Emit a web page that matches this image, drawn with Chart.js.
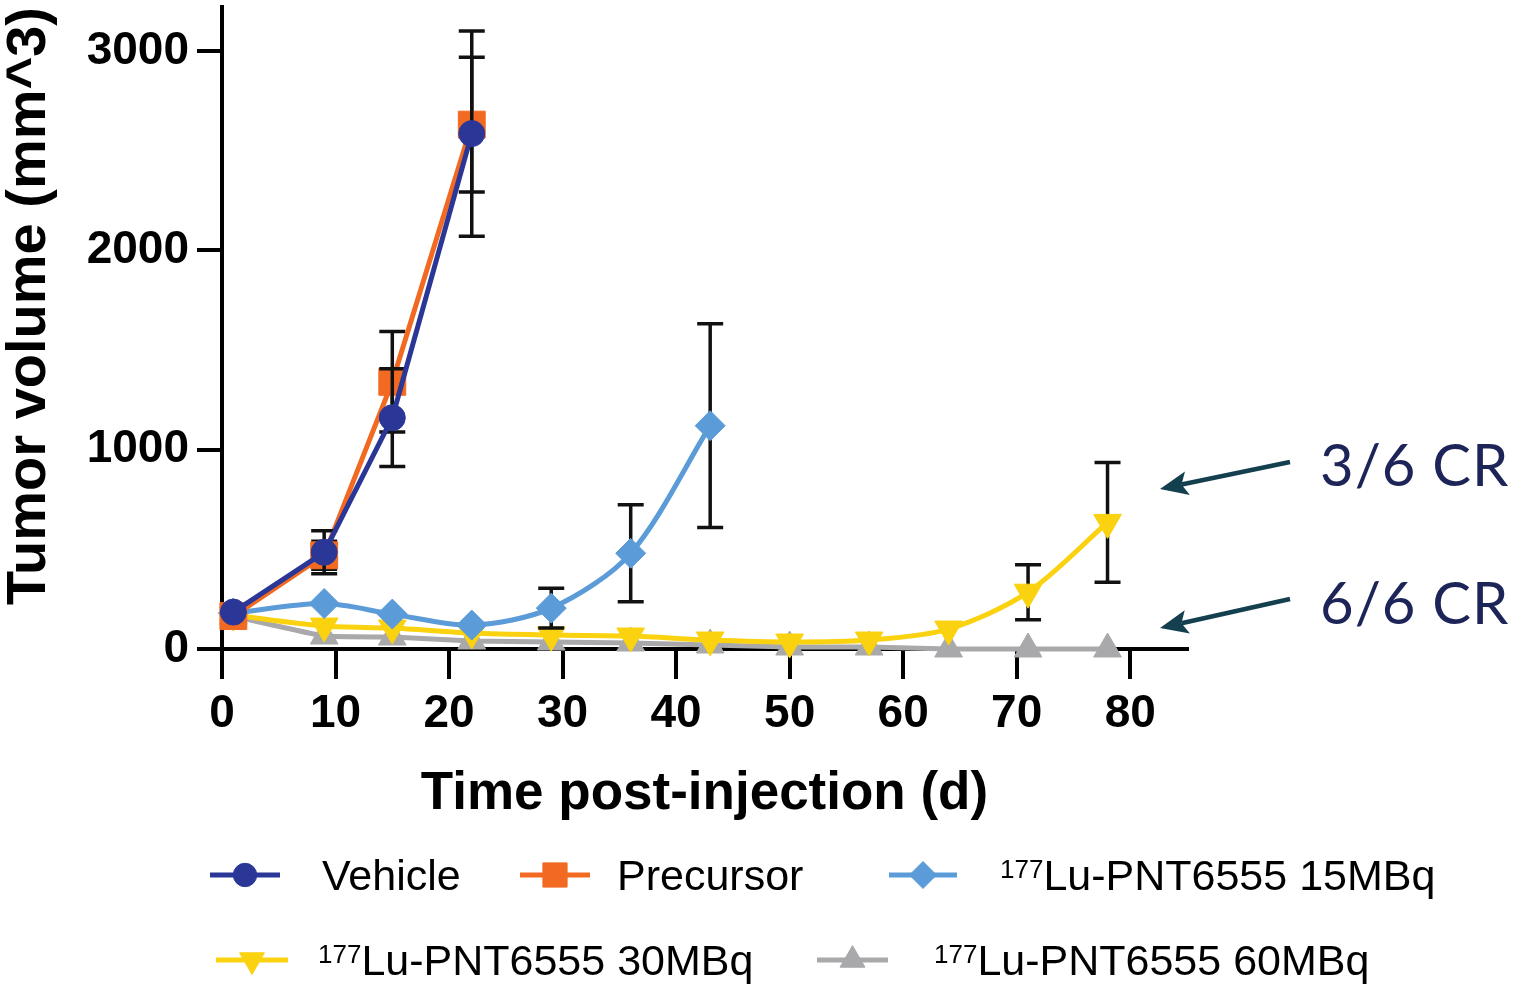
<!DOCTYPE html>
<html><head><meta charset="utf-8">
<script src="https://cdn.jsdelivr.net/npm/chart.js@4.4.1/dist/chart.umd.min.js"></script>
<style>html,body{margin:0;padding:0;background:#fff;}#wrap{width:1516px;height:992px;position:relative;}</style>
</head><body><div id="wrap"><canvas id="c" width="1516" height="992"></canvas></div>
<script>
// ---- data ----
const days = [1, 9, 15, 22, 29, 36, 43, 50, 57, 64, 71, 78];
const vehicle = [185, 485, 1160, 2585];
const vehicleErr = [0, 108, 245, 515];
const precursor = [165, 470, 1340, 2630];
const precursorErr = [0, 70, 252, 338];
const lu15 = [180, 228, 175, 120, 205, 480, 1120];
const lu15Err = [0, 0, 0, 0, 100, 243, 511];
const lu30 = [170, 115, 105, 80, 70, 65, 45, 35, 45, 100, 285, 635];
const lu30Err = [0, 0, 0, 0, 0, 0, 0, 0, 0, 0, 138, 300];
const lu60 = [165, 65, 60, 40, 35, 30, 20, 10, 10, 0, 0, 0];
const xTicks = [0, 10, 20, 30, 40, 50, 60, 70, 80];
const yTicks = [0, 1000, 2000, 3000];
const labelSup = ['', '', '177', '177', '177'];
const labelMain = ['Vehicle', 'Precursor', 'Lu-PNT6555 15MBq', 'Lu-PNT6555 30MBq', 'Lu-PNT6555 60MBq'];
const colors = ['#2b3797', '#f26a22', '#5b9bd8', '#fbd20f', '#a9a9ab'];
const xTitle = 'Time post-injection (d)';
const yTitle = 'Tumor volume (mm^3)';
const notes = ['3/6 CR', '6/6 CR'];

const pts = (arr) => arr.map((v, i) => ({x: days[i], y: v}));
const FONT = '"Liberation Sans", Arial, sans-serif';

const styles = [
  {pointStyle: 'circle', radius: 13, rotation: 0},
  {pointStyle: 'rect', radius: 19, rotation: 0},
  {pointStyle: 'rectRot', radius: 15, rotation: 0},
  {pointStyle: 'triangle', radius: 16, rotation: 180},
  {pointStyle: 'triangle', radius: 16, rotation: 0}
];
const seriesData = [vehicle, precursor, lu15, lu30, lu60];
const seriesErr = [vehicleErr, precursorErr, lu15Err, lu30Err, null];
const tensions = [0, 0, 0.3, 0.3, 0.1];

const datasets = seriesData.map((arr, k) => ({
  label: (labelSup[k] ? '\u00b9\u2077\u2077' : '') + labelMain[k],
  data: pts(arr),
  errors: seriesErr[k],
  borderColor: colors[k],
  backgroundColor: colors[k],
  pointBackgroundColor: colors[k],
  pointBorderColor: colors[k],
  pointBorderWidth: 1,
  pointStyle: styles[k].pointStyle,
  pointRadius: styles[k].radius,
  pointRotation: styles[k].rotation,
  borderWidth: 5,
  tension: tensions[k],
  clip: false
}));

const errorBars = {
  id: 'errorBars',
  beforeDatasetDraw(chart, args) {
    const ds = chart.data.datasets[args.index];
    if (!ds.errors) return;
    const ctx = chart.ctx, ys = chart.scales.y, xs = chart.scales.x;
    ctx.save();
    ctx.strokeStyle = '#111';
    ctx.lineWidth = 3.5;
    ds.data.forEach((p, i) => {
      const e = ds.errors[i];
      if (!e) return;
      const x = xs.getPixelForValue(p.x);
      const yt = ys.getPixelForValue(p.y + e), yb = ys.getPixelForValue(p.y - e);
      ctx.beginPath();
      ctx.moveTo(x, yt); ctx.lineTo(x, yb);
      ctx.moveTo(x - 13, yt); ctx.lineTo(x + 13, yt);
      ctx.moveTo(x - 13, yb); ctx.lineTo(x + 13, yb);
      ctx.stroke();
    });
    ctx.restore();
  }
};

function marker(ctx, k, x, y) {
  ctx.fillStyle = colors[k];
  ctx.strokeStyle = colors[k];
  ctx.lineWidth = 1;
  Chart.helpers.drawPoint(ctx, {pointStyle: styles[k].pointStyle, radius: styles[k].radius * 0.9, rotation: styles[k].rotation, borderWidth: 1}, x, y);
}

const legendPos = [
  {x1: 210, x2: 280, y: 875, tx: 322},
  {x1: 520, x2: 590, y: 875, tx: 617},
  {x1: 889, x2: 957, y: 875, tx: 1000},
  {x1: 216, x2: 288, y: 960, tx: 318},
  {x1: 817, x2: 888, y: 960, tx: 934}
];

const extras = {
  id: 'extras',
  afterDraw(chart) {
    const ctx = chart.ctx;
    ctx.save();
    // y-axis title
    ctx.translate(30, 306);
    ctx.rotate(-Math.PI / 2);
    ctx.fillStyle = '#000';
    ctx.font = 'bold 56px ' + FONT;
    ctx.textAlign = 'center';
    ctx.textBaseline = 'middle';
    ctx.fillText(yTitle, 0, 0);
    ctx.restore();

    // legend
    ctx.save();
    legendPos.forEach((p, k) => {
      ctx.strokeStyle = colors[k];
      ctx.lineWidth = 5;
      ctx.beginPath(); ctx.moveTo(p.x1, p.y); ctx.lineTo(p.x2, p.y); ctx.stroke();
      marker(ctx, k, (p.x1 + p.x2) / 2, p.y);
      ctx.fillStyle = '#000';
      ctx.textAlign = 'left';
      ctx.textBaseline = 'alphabetic';
      const base = p.y + 15;
      let x = p.tx;
      if (labelSup[k]) {
        ctx.font = '26px ' + FONT;
        ctx.fillText(labelSup[k], x, base - 12);
        x += ctx.measureText(labelSup[k]).width;
      }
      ctx.font = '43px ' + FONT;
      ctx.fillText(labelMain[k], x, base);
    });
    ctx.restore();

    // annotations
    ctx.save();
    const arrows = [
      {from: [1290, 462], to: [1160, 489], ty: 486},
      {from: [1290, 599], to: [1160, 628], ty: 624}
    ];
    arrows.forEach((a, i) => {
      const [fx, fy] = a.from, [tx, ty] = a.to;
      const ang = Math.atan2(ty - fy, tx - fx);
      const hl = 28, hw = 12;
      const bx = tx - hl * Math.cos(ang), by = ty - hl * Math.sin(ang);
      ctx.strokeStyle = '#143f4f';
      ctx.fillStyle = '#143f4f';
      ctx.lineWidth = 4.5;
      ctx.beginPath(); ctx.moveTo(fx, fy); ctx.lineTo(bx + 6 * Math.cos(ang), by + 6 * Math.sin(ang)); ctx.stroke();
      ctx.beginPath();
      ctx.moveTo(tx, ty);
      ctx.lineTo(bx - hw * Math.sin(ang), by + hw * Math.cos(ang));
      ctx.lineTo(bx + 6 * Math.cos(ang), by + 6 * Math.sin(ang));
      ctx.lineTo(bx + hw * Math.sin(ang), by - hw * Math.cos(ang));
      ctx.closePath(); ctx.fill();
      ctx.fillStyle = '#1d2558';
      ctx.font = '58px Lato, "Open Sans", sans-serif';
      try { ctx.letterSpacing = '1px'; } catch (e) {}
      ctx.textAlign = 'left';
      ctx.textBaseline = 'alphabetic';
      ctx.fillText(notes[i], 1320, a.ty);
      try { ctx.letterSpacing = '0px'; } catch (e) {}
    });
    ctx.restore();
  }
};

new Chart(document.getElementById('c'), {
  type: 'line',
  data: {datasets},
  plugins: [errorBars, extras],
  options: {
    responsive: false,
    animation: false,
    devicePixelRatio: 1,
    layout: {autoPadding: false, padding: {left: 0, top: 7, right: 329, bottom: 160}},
    plugins: {legend: {display: false}, tooltip: {enabled: false}},
    elements: {line: {borderCapStyle: 'round', borderJoinStyle: 'round'}},
    scales: {
      x: {
        type: 'linear', min: 0, max: 85,
        afterFit(s) { s.height = 183; s.paddingLeft = 0; s.paddingRight = 0; },
        afterBuildTicks(s) { s.ticks = xTicks.map(v => ({value: v})); },
        ticks: {color: '#000', font: {family: FONT, size: 46, weight: 'bold'}, padding: 8, maxRotation: 0, autoSkip: false, callback: v => String(v)},
        grid: {drawOnChartArea: false, drawTicks: true, tickLength: 30, color: '#000', lineWidth: 4, tickWidth: 4, tickColor: '#000'},
        border: {display: true, color: '#000', width: 4},
        title: {display: true, text: xTitle, color: '#000', font: {family: FONT, size: 53, weight: 'bold', lineHeight: 1.2}, padding: {top: 0, bottom: 6}}
      },
      y: {
        type: 'linear', min: 0, max: 3220,
        afterFit(s) { s.width = 222; s.paddingTop = 0; s.paddingBottom = 0; },
        afterBuildTicks(s) { s.ticks = yTicks.map(v => ({value: v})); },
        ticks: {color: '#000', font: {family: FONT, size: 46, weight: 'bold'}, padding: 8, autoSkip: false, callback: v => String(v)},
        grid: {drawOnChartArea: false, drawTicks: true, tickLength: 25, color: '#000', lineWidth: 4, tickWidth: 4, tickColor: '#000'},
        border: {display: true, color: '#000', width: 4}
      }
    }
  }
});
</script>
</body></html>
